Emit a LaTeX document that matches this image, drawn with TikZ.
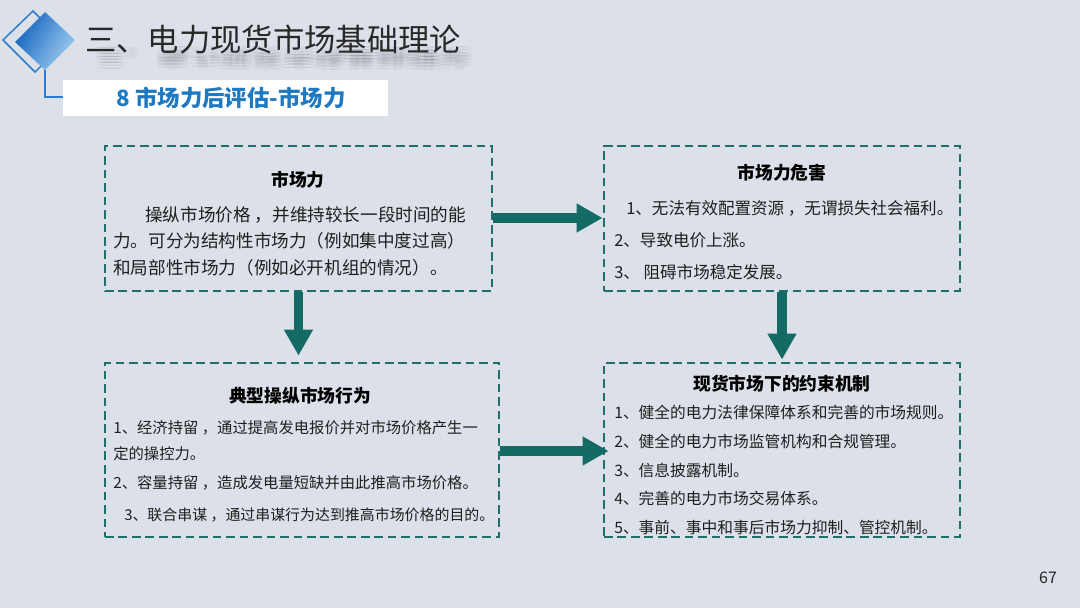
\documentclass[tikz,border=0pt]{standalone}
\usepackage{fontspec}
\setmainfont{Noto Sans CJK SC}
\usetikzlibrary{arrows.meta}
\definecolor{bgc}{RGB}{220,224,232}
\definecolor{boxc}{RGB}{30,112,105}
\definecolor{arrc}{RGB}{20,106,100}
\definecolor{titc}{RGB}{40,40,40}
\definecolor{subc}{RGB}{30,121,193}
\definecolor{decoc}{RGB}{40,125,205}
\definecolor{dgA}{RGB}{20,100,190}
\definecolor{dgB}{RGB}{160,205,242}
\newcommand\myfs[1]{\fontsize{#1}{#1}\selectfont}
\tikzset{
  box/.style={draw=boxc, line width=2.1pt, dash pattern=on 6.5pt off 3.6pt, inner sep=0pt},
  arr/.style={draw=arrc, line width=7.3pt, -{Triangle[length=19.5pt,width=20.5pt]}},
  ttl/.style={font=\myfs{13.3pt}\bfseries, text=black, inner sep=0pt},
  ln/.style={anchor=west, inner sep=0pt, text=black!88},
}
\begin{document}
\begin{tikzpicture}[x=0.75pt,y=-0.75pt]
\useasboundingbox (0,0) rectangle (1080,608);
\fill[bgc] (0,0) rectangle (1080,608);
% decoration
\draw[decoc, line width=1.1pt] (3,40) -- (33,11) -- (65,43) -- (35,72) -- cycle;
\shade[left color=dgA, right color=dgB, shading angle=60] (15,42) -- (45,12) -- (75,40) -- (45,70) -- cycle;
\draw[decoc, line width=1.6pt] (45,70) -- (45,97) -- (63,97);
% title shadow (soft blur)
\foreach \dx in {-4,-2,0,2,4} {
  \foreach \dy in {14,17,20,23} {
    \node[text=black, opacity=0.015, font=\myfs{23.5pt}, inner sep=0pt, anchor=west, yscale=-0.55] at (95+\dx,40+\dy) {三、电力现货市场基础理论};
  }
}
\node (title) [text=titc, font=\myfs{23.5pt}, inner sep=0pt, anchor=west] at (85,40) {三、电力现货市场基础理论};
\node (subbox) [fill=white, minimum width=243.75pt, minimum height=27pt, inner sep=0pt, anchor=north west] at (63,80) {};
\node (sub) [text=subc, font=\myfs{16.8pt}\bfseries, inner sep=0pt] at (231,98) {8 市场力后评估-市场力};
% boxes
\node (b1) [box, minimum width=290.25pt, minimum height=108.75pt] at (298.5,218.5) {};
\node (b2) [box, minimum width=267pt, minimum height=108.75pt] at (782,218.5) {};
\node (b3) [box, minimum width=295.5pt, minimum height=130.5pt] at (302,450) {};
\node (b4) [box, minimum width=267pt, minimum height=130.5pt] at (782,450) {};
% box 1
\node (t1) [ttl] at (298,180) {市场力};
\begin{scope}[every node/.append style={ln, font=\myfs{13.2pt}}]
\node (b1a) at (145,215) {操纵市场价格 ，并维持较长一段时间的能};
\node (b1b) at (113,241) {力。可分为结构性市场力（例如集中度过高）};
\node (b1c) at (113,268) {和局部性市场力（例如必开机组的情况）。};
\end{scope}
% box 2
\node (t2) [ttl] at (782,173) {市场力危害};
\begin{scope}[every node/.append style={ln, font=\myfs{12.4pt}}]
\node (b2a) at (626,208) {1、无法有效配置资源 ，无谓损失社会福利。};
\node (b2b) at (614,240) {2、导致电价上涨。};
\node (b2c) at (614,272) {3、 阻碍市场稳定发展。};
\end{scope}
% box 3
\node (t3) [ttl] at (300,396) {典型操纵市场行为};
\begin{scope}[every node/.append style={ln, font=\myfs{11.5pt}}]
\node (b3a) at (113,428) {1、经济持留 ，通过提高发电报价并对市场价格产生一};
\node (b3b) at (113,454) {定的操控力。};
\node (b3c) at (113,483) {2、容量持留 ，造成发电量短缺并由此推高市场价格。};
\node (b3d) [font=\myfs{11.2pt}] at (124,515) {3、联合串谋 ，通过串谋行为达到推高市场价格的目的。};
\end{scope}
% box 4
\node (t4) [ttl] at (782,384) {现货市场下的约束机制};
\begin{scope}[every node/.append style={ln, font=\myfs{11.8pt}}]
\node (b4a) at (614,412) {1、健全的电力法律保障体系和完善的市场规则。};
\node (b4b) at (614,441) {2、健全的电力市场监管机构和合规管理。};
\node (b4c) at (614,470) {3、信息披露机制。};
\node (b4d) at (614,498) {4、完善的电力市场交易体系。};
\node (b4e) at (614,527) {5、事前、事中和事后市场力抑制、管控机制。};
\end{scope}
% arrows
\draw[arr] (b1.east |- 0,218) -- (b2.west |- 0,218);
\draw[arr, shorten >=4.5pt] (b1.south) -- (b1.south |- b3.north);
\draw[arr, shorten >=1.5pt] (b2.south) -- (b4.north);
\draw[arr, shorten >=-4.5pt] (b3.east |- 0,451) -- (b4.west |- 0,451);
% page number
\node (pg) [font=\myfs{12pt}, text=black!85, inner sep=0pt] at (1048,578) {67};
\end{tikzpicture}
\end{document}
